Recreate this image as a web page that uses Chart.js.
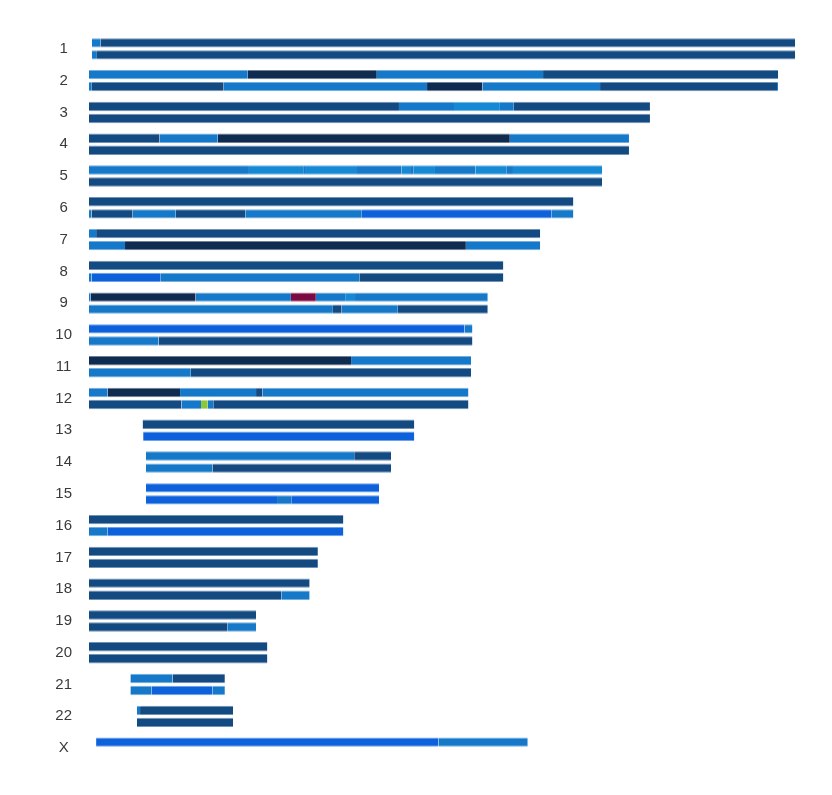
<!DOCTYPE html>
<html>
<head>
<meta charset="utf-8">
<script src="https://cdn.jsdelivr.net/npm/chart.js@4"></script>
<style>
html,body{margin:0;padding:0;background:#fff}
#wrap{width:832px;height:795px;position:relative}
</style>
</head>
<body>
<div id="wrap"><canvas id="c"></canvas></div>
<script>
// Chromosome labels (y categories)
const chromosomes = ['1','2','3','4','5','6','7','8','9','10','11','12','13','14','15','16','17','18','19','20','21','22','X'];

// Ancestry keys -> colours
const ancestryColors = {
  N: '#144a82',
  D: '#0f2b50',
  B: '#1578c8',
  L: '#1689d5',
  R: '#0d61db',
  M: '#7a0a41',
  G: '#8cc63f'
};

// Haplotype A (upper track): [start Mb, end Mb, ancestry]
const haplotypeA = [
  [[1.0,4.0,'B'],[4.0,249.0,'N']],
  [[0,56.0,'B'],[56.0,101.5,'D'],[101.5,160.1,'B'],[160.1,243.0,'N']],
  [[0,109.3,'N'],[109.3,128.7,'B'],[128.7,144.9,'L'],[144.9,149.8,'B'],[149.8,197.8,'N']],
  [[0,24.9,'N'],[24.9,45.4,'B'],[45.4,148.4,'D'],[148.4,190.4,'B']],
  [[0,56.4,'B'],[56.4,75.5,'L'],[75.5,76.5,'B'],[76.5,94.5,'L'],[94.5,110.1,'B'],[110.1,113.2,'L'],[113.2,114.3,'B'],[114.3,122.0,'L'],[122.0,136.2,'B'],[136.2,147.1,'L'],[147.1,149.5,'B'],[149.5,180.9,'L']],
  [[0,170.8,'N']],
  [[0,2.5,'B'],[2.5,159.1,'N']],
  [[0,146.1,'N']],
  [[0,0.6,'B'],[0.6,37.6,'D'],[37.6,71.2,'B'],[71.2,80.0,'M'],[80.0,90.3,'B'],[90.3,93.8,'L'],[93.8,140.6,'B']],
  [[0,132.4,'R'],[132.4,135.2,'B']],
  [[0,92.4,'D'],[92.4,134.7,'B']],
  [[0,6.6,'B'],[6.6,32.1,'D'],[32.1,58.9,'B'],[58.9,61.1,'N'],[61.1,133.8,'B']],
  [[18.9,114.7,'N']],
  [[20.1,93.5,'B'],[93.5,106.5,'N']],
  [[20.1,102.3,'R']],
  [[0,89.7,'N']],
  [[0,80.7,'N']],
  [[0,77.8,'N']],
  [[0,58.9,'N']],
  [[0,62.9,'N']],
  [[14.6,29.5,'B'],[29.5,47.9,'N']],
  [[16.9,18.0,'B'],[18.0,50.8,'N']],
  [[2.5,123.2,'R'],[123.2,154.7,'B']]
];

// Haplotype B (lower track)
const haplotypeB = [
  [[1.0,2.8,'B'],[2.8,249.0,'N']],
  [[0,1.0,'B'],[1.0,47.5,'N'],[47.5,119.2,'B'],[119.2,138.7,'D'],[138.7,180.2,'B'],[180.2,242.6,'N'],[242.6,243.0,'B']],
  [[0,197.8,'N']],
  [[0,190.4,'N']],
  [[0,180.9,'N']],
  [[0,0.9,'B'],[0.9,15.4,'N'],[15.4,30.6,'B'],[30.6,55.1,'N'],[55.1,96.2,'B'],[96.2,163.0,'R'],[163.0,170.8,'B']],
  [[0,12.7,'B'],[12.7,132.9,'D'],[132.9,159.1,'B']],
  [[0,0.9,'B'],[0.9,25.3,'R'],[25.3,95.3,'B'],[95.3,146.1,'N']],
  [[0,86.0,'B'],[86.0,89.1,'N'],[89.1,108.9,'B'],[108.9,140.6,'N']],
  [[0,24.5,'B'],[24.5,135.2,'N']],
  [[0,35.9,'B'],[35.9,134.7,'N']],
  [[0,32.6,'N'],[32.6,39.5,'B'],[39.5,41.9,'G'],[41.9,43.8,'B'],[43.8,133.8,'N']],
  [[19.1,114.7,'R']],
  [[20.1,43.5,'B'],[43.5,106.5,'N']],
  [[20.1,66.3,'R'],[66.3,71.3,'B'],[71.3,102.3,'R']],
  [[0,6.6,'B'],[6.6,89.7,'R']],
  [[0,80.7,'N']],
  [[0,67.8,'N'],[67.8,77.8,'B']],
  [[0,48.9,'N'],[48.9,58.9,'B']],
  [[0,62.9,'N']],
  [[14.6,22.1,'B'],[22.1,43.6,'R'],[43.6,47.9,'B']],
  [[16.9,50.8,'N']],
  []
];

function fade(hex, a) {
  const n = parseInt(hex.slice(1), 16);
  return 'rgba(' + ((n >> 16) & 255) + ',' + ((n >> 8) & 255) + ',' + (n & 255) + ',' + a + ')';
}

function buildDatasets(hap, stack) {
  const layers = Math.max(...hap.map(s => s.length));
  const out = [];
  for (let k = 0; k < layers; k++) {
    const data = hap.map(segs => segs[k] ? [segs[k][0], segs[k][1]] : null);
    const bg = hap.map(segs => segs[k] ? ancestryColors[segs[k][2]] : 'rgba(0,0,0,0)');
    const bc = hap.map(segs => segs[k] ? fade(ancestryColors[segs[k][2]], 0.6) : 'rgba(0,0,0,0)');
    out.push({
      label: stack + k,
      stack: stack,
      data: data,
      backgroundColor: bg,
      borderColor: bc,
      borderWidth: {top: 1, bottom: 1, left: 0, right: 0},
      borderSkipped: false,
      categoryPercentage: 0.756,
      barPercentage: 0.78
    });
  }
  return out;
}

const datasets = buildDatasets(haplotypeA, 'a').concat(buildDatasets(haplotypeB, 'b'));

new Chart(document.getElementById('c'), {
  type: 'bar',
  data: { labels: chromosomes, datasets: datasets },
  options: {
    indexAxis: 'y',
    responsive: true,
    maintainAspectRatio: false,
    animation: false,
    events: [],
    layout: { padding: { top: 33, bottom: 31, left: 0, right: 34 } },
    plugins: { legend: { display: false }, tooltip: { enabled: false } },
    scales: {
      x: { type: 'linear', min: 0, max: 250, display: false, stacked: false },
      y: {
        type: 'category',
        grid: { display: false, drawTicks: false },
        border: { display: false },
        ticks: {
          autoSkip: false,
          color: '#3a3a3a',
          font: { family: 'Liberation Sans, Arial, sans-serif', size: 15 },
          padding: 17,
          crossAlign: 'center'
        },
        afterFit: function (s) { s.width = 89; }
      }
    }
  }
});
</script>
</body>
</html>
